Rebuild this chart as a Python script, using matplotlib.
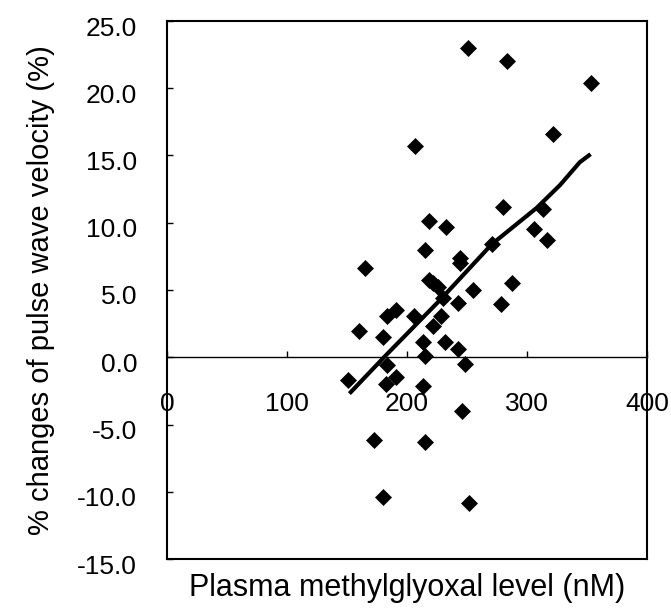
import matplotlib
matplotlib.use("Agg")
import matplotlib.pyplot as plt
from matplotlib.transforms import ScaledTranslation

plt.rcParams['font.family'] = ['Liberation Sans', 'DejaVu Sans']
plt.rcParams['axes.unicode_minus'] = False

# Data
mg_level = [218.6, 232.5, 280.3, 313.6, 305.8, 317.0, 215.0, 244.0, 244.0, 165.3,
            271.0, 218.6, 222.0, 226.0, 287.5, 255.0, 230.0, 278.3, 242.8, 190.8,
            183.6, 206.0, 228.0, 221.5, 160.0, 180.3, 213.6, 231.7, 242.8, 215.0,
            183.6, 248.3, 151.0, 190.8, 182.2, 213.6, 246.0, 172.8, 215.3, 180.3,
            252.0, 251.0, 283.6, 353.0, 322.0, 207.0]
pwv_change = [10.1, 9.7, 11.2, 11.0, 9.55, 8.7, 8.0, 7.35, 7.0, 6.6,
              8.4, 5.75, 5.5, 5.25, 5.55, 5.0, 4.4, 3.95, 4.0, 3.55,
              3.06, 3.06, 3.06, 2.3, 1.97, 1.5, 1.14, 1.1, 0.65, 0.07,
              -0.55, -0.52, -1.67, -1.5, -1.97, -2.16, -4.03, -6.15, -6.3, -10.4,
              -10.85, 23.0, 22.0, 20.4, 16.6, 15.7]

trend_x = [152, 183, 227.5, 270.6, 308, 327.5, 344, 353]
trend_y = [-2.7, 0.2, 4.25, 8.4, 11.1, 12.8, 14.5, 15.1]

x_ticks = [0, 100, 200, 300, 400]
y_ticks = [-15, -10, -5, 0, 5, 10, 15, 20, 25]
x_lim = (0, 400)
y_lim = (-15, 25)

fig = plt.figure(figsize=(6.71, 6.08), dpi=100)
ax = fig.add_axes([167/671, 1 - 559/608, 480/671, 538/608])

ax.plot(mg_level, pwv_change, linestyle='none', marker='D', markersize=8.5,
        color='black', markeredgewidth=0.5, zorder=3)
ax.plot(trend_x, trend_y, color='black', linewidth=3.0, solid_capstyle='butt', zorder=4)

ax.set_xlim(*x_lim)
ax.set_ylim(*y_lim)

for s in ax.spines.values():
    s.set_linewidth(1.5)

ax.set_yticks(y_ticks)
ax.set_yticklabels([f"{v:.1f}" for v in y_ticks])
ax.tick_params(axis='y', direction='in', length=4.5, width=1.0, pad=21.5,
               labelsize=19, right=False)
shift = ScaledTranslation(0, -5/100, fig.dpi_scale_trans)
for lbl in ax.get_yticklabels():
    lbl.set_transform(lbl.get_transform() + shift)
ax.set_xticks([])

# x-axis drawn at y = 0
loc = (0 - y_lim[0]) / (y_lim[1] - y_lim[0])
sec = ax.secondary_xaxis(loc)
sec.set_xticks(x_ticks)
sec.set_xticklabels([str(v) for v in x_ticks])
sec.tick_params(axis='x', direction='in', length=4, width=1.0, pad=25, labelsize=19)
sec.spines['bottom'].set_linewidth(1.0)

ax.set_xlabel("Plasma methylglyoxal level (nM)", fontsize=22, labelpad=10)
ax.set_ylabel("% changes of pulse wave velocity (%)", fontsize=21, labelpad=16)

fig.savefig("out.png", dpi=100)
